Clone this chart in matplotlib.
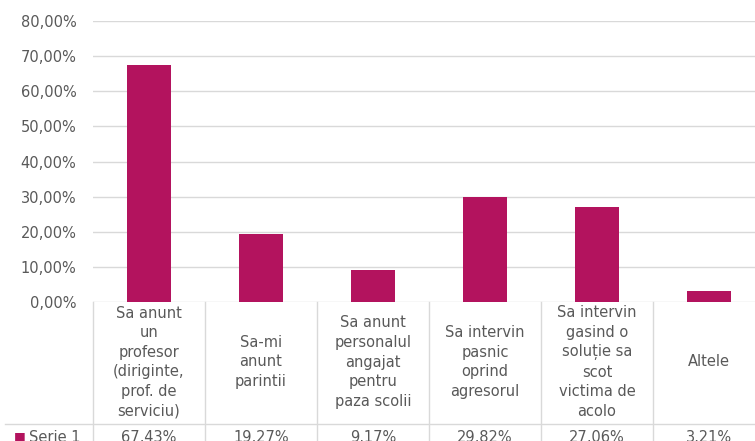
import matplotlib.pyplot as plt
import matplotlib.transforms as mtransforms
from matplotlib.lines import Line2D
import numpy as np

categories = [
    "Sa anunt\nun\nprofesor\n(diriginte,\nprof. de\nserviciu)",
    "Sa-mi\nanunt\nparintii",
    "Sa anunt\npersonalul\nangajat\npentru\npaza scolii",
    "Sa intervin\npasnic\noprind\nagresorul",
    "Sa intervin\ngasind o\nsoluție sa\nscot\nvictima de\nacolo",
    "Altele",
]
values = [67.43, 19.27, 9.17, 29.82, 27.06, 3.21]
value_labels = ["67,43%", "19,27%", "9,17%", "29,82%", "27,06%", "3,21%"]
series_name = "Serie 1"

bar_color = "#b3135e"
text_color = "#595959"
grid_color = "#d9d9d9"

W, H = 755, 441
fig = plt.figure(figsize=(W / 100, H / 100), dpi=100)
plt.rcParams['font.family'] = ['DejaVu Sans']

# axes placed in pixel coordinates of the reference
left, right, top, bottom = 93, 765, 21, 302
ax = fig.add_axes([left / W, 1 - bottom / H, (right - left) / W, (bottom - top) / H])

x = np.arange(len(values))
ax.bar(x, values, width=0.4, color=bar_color, zorder=3)
ax.set_xlim(-0.5, len(values) - 0.5)
ax.set_ylim(0, 80)
ax.set_yticks(np.arange(0, 81, 10))
ax.set_yticklabels([f"{v:.2f}%".replace(".", ",") for v in np.arange(0, 81, 10)])
ax.tick_params(axis='y', length=0, pad=12, labelsize=10.5, labelcolor=text_color)
ax.set_xticks([])
ax.grid(axis='y', color=grid_color, linewidth=1, zorder=0)
for s in ax.spines.values():
    s.set_visible(False)

# data table under the plot
ah = bottom - top
row_line = -(424 - bottom) / ah
row_mid = -(362 - bottom) / ah
val_mid = -(437 - bottom) / ah
tb = mtransforms.blended_transform_factory(ax.transData, ax.transAxes)
ta = ax.transAxes

for i in range(len(values) + 1):
    ax.add_line(Line2D([i - 0.5, i - 0.5], [0, -0.6], transform=tb, color=grid_color,
                       linewidth=1, clip_on=False))
ax.add_line(Line2D([(5 - left) / (right - left), 1.0], [row_line, row_line], transform=ta,
                   color=grid_color, linewidth=1, clip_on=False))

for i, (lab, vl) in enumerate(zip(categories, value_labels)):
    ax.text(i, row_mid, lab, transform=tb, ha='center', va='center', fontsize=10.5,
            color=text_color, linespacing=1.38)
    ax.text(i, val_mid, vl, transform=tb, ha='center', va='center', fontsize=10.5,
            color=text_color)

ax.text((14 - left) / (right - left), val_mid, "\u25a0", transform=ta, ha='left', va='center',
        fontsize=9, color=bar_color)
ax.text((29 - left) / (right - left), val_mid, series_name, transform=ta, ha='left',
        va='center', fontsize=10.5, color=text_color)

fig.savefig("out.png", dpi=100)
